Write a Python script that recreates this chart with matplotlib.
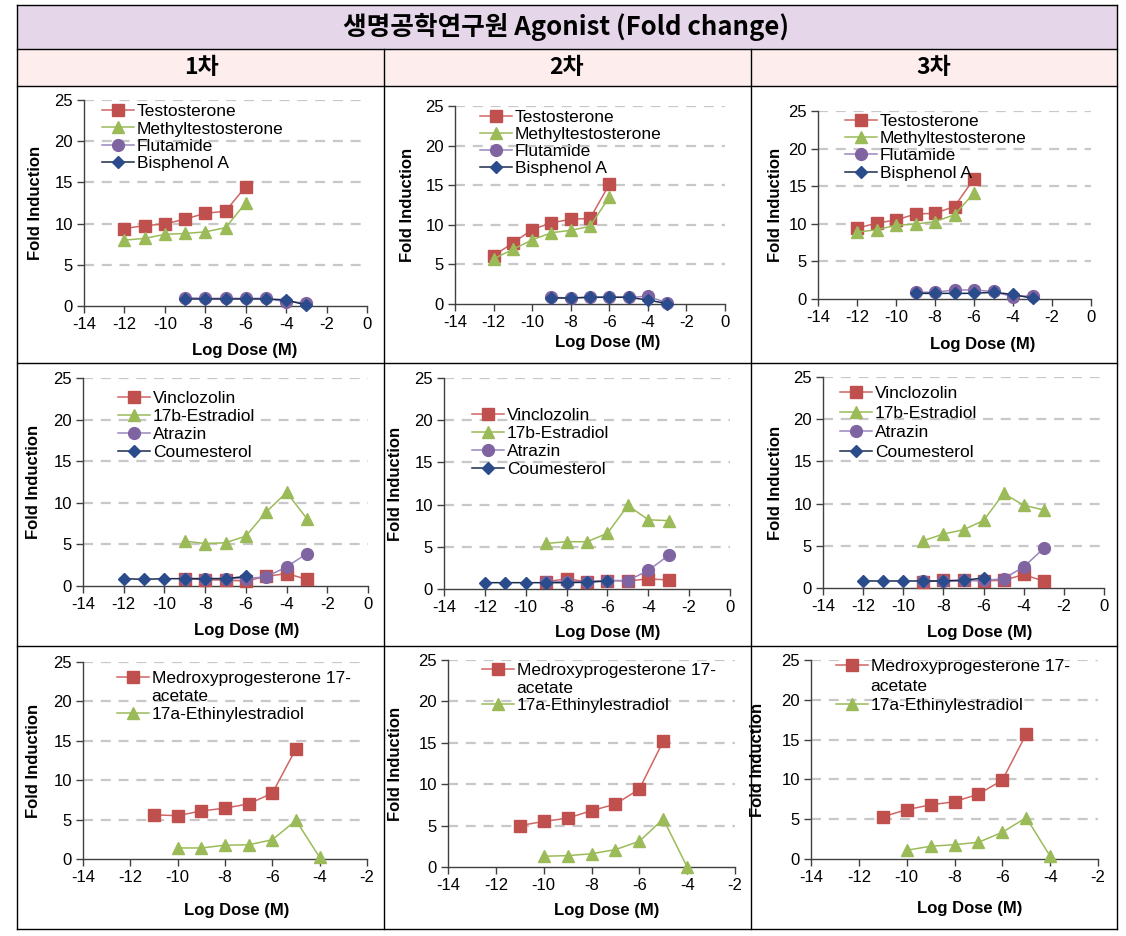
import matplotlib
matplotlib.use('Agg')
import matplotlib.pyplot as plt
from matplotlib.lines import Line2D
from matplotlib.patches import Rectangle

# ---------------- data ----------------
title_text = "생명공학연구원 Agonist (Fold change)"
col_headers = ["1차", "2차", "3차"]

dose_12_6 = [-12, -11, -10, -9, -8, -7, -6]
dose_9_3 = [-9, -8, -7, -6, -5, -4, -3]
dose_11_5 = [-11, -10, -9, -8, -7, -6, -5]
dose_10_4 = [-10, -9, -8, -7, -6, -5, -4]

# row 1
testosterone_1 = [9.4, 9.75, 9.95, 10.55, 11.25, 11.5, 14.5]
testosterone_2 = [6.1, 7.7, 9.4, 10.25, 10.7, 10.8, 15.1]
testosterone_3 = [9.4, 10.1, 10.5, 11.3, 11.4, 12.3, 16.0]
methyltest_1 = [8.0, 8.2, 8.7, 8.8, 9.0, 9.5, 12.5]
methyltest_2 = [5.7, 6.9, 8.1, 9.0, 9.3, 9.8, 13.5]
methyltest_3 = [8.9, 9.2, 9.8, 9.95, 10.3, 11.2, 14.1]
flutamide_1 = [1.0, 0.93, 0.93, 0.93, 0.93, 0.5, 0.4]
flutamide_2 = [0.85, 0.75, 0.85, 0.85, 0.85, 0.97, 0.15]
flutamide_3 = [0.9, 0.9, 1.2, 1.2, 1.0, 0.3, 0.45]
bisphenol_1 = [0.85, 0.85, 0.85, 0.85, 0.85, 0.75, 0.1]
bisphenol_2 = [0.76, 0.76, 0.85, 0.85, 0.85, 0.5, 0.05]
bisphenol_3 = [0.75, 0.75, 0.75, 0.75, 0.9, 0.6, 0.1]

# row 2
vinclozolin_1 = [0.9, 0.75, 0.7, 0.6, 1.15, 1.5, 0.8]
vinclozolin_2 = [0.87, 1.2, 0.87, 1.0, 0.95, 1.2, 1.07]
vinclozolin_3 = [0.7, 0.9, 0.9, 0.85, 0.9, 1.6, 0.8]
estradiol_1 = [5.4, 5.1, 5.2, 6.0, 8.9, 11.25, 8.1]
estradiol_2 = [5.4, 5.6, 5.6, 6.6, 9.9, 8.2, 8.1]
estradiol_3 = [5.6, 6.4, 6.9, 8.0, 11.2, 9.8, 9.25]
atrazin_1 = [0.9, 0.9, 0.9, 0.9, 1.1, 2.3, 3.9]
atrazin_2 = [0.87, 0.87, 0.87, 1.0, 1.0, 2.2, 4.0]
atrazin_3 = [0.85, 0.85, 0.9, 0.9, 1.1, 2.5, 4.7]
coumesterol_1 = [0.88, 0.8, 0.88, 0.88, 0.88, 0.88, 1.15]
coumesterol_2 = [0.75, 0.75, 0.75, 0.75, 0.75, 0.8, 0.95]
coumesterol_3 = [0.83, 0.83, 0.83, 0.83, 0.83, 0.9, 1.2]

# row 3
medroxy_1 = [5.6, 5.5, 6.1, 6.45, 7.0, 8.35, 14.0]
medroxy_2 = [5.0, 5.5, 5.9, 6.8, 7.6, 9.4, 15.2]
medroxy_3 = [5.3, 6.2, 6.8, 7.2, 8.15, 9.9, 15.7]
ethinyl_1 = [1.4, 1.4, 1.75, 1.8, 2.45, 4.9, 0.2]
ethinyl_2 = [1.3, 1.37, 1.6, 2.1, 3.1, 5.8, 0.0]
ethinyl_3 = [1.1, 1.6, 1.8, 2.1, 3.35, 5.2, 0.35]

labels_row1 = ["Testosterone", "Methyltestosterone", "Flutamide", "Bisphenol A"]
labels_row2 = ["Vinclozolin", "17b-Estradiol", "Atrazin", "Coumesterol"]
labels_row3 = ["Medroxyprogesterone 17-\nacetate", "17a-Ethinylestradiol"]

y_ticks = [0, 5, 10, 15, 20, 25]
x_ticks_wide = [-14, -12, -10, -8, -6, -4, -2, 0]
x_ticks_narrow = [-14, -12, -10, -8, -6, -4, -2]

# ---------------- styles ----------------
RED = '#C0504D'
GREEN = '#9BBB59'
PURPLE = '#8064A2'
NAVY = '#2B4C8C'
styles = [
    dict(marker='s', color=RED, ms=9, line='#CF6664'),
    dict(marker='^', color=GREEN, ms=9, line='#9BBB59'),
    dict(marker='o', color=PURPLE, ms=8.5, line='#9A86BE'),
    dict(marker='D', color=NAVY, ms=6.5, line='#1B2B4B'),
]

W, H = 1126, 936
plt.rcParams['font.family'] = ['Liberation Sans', 'DejaVu Sans']
plt.rcParams['axes.unicode_minus'] = False
fig = plt.figure(figsize=(W / 100, H / 100), dpi=100)


def fx(x):
    return x / W


def fy(y):
    return 1 - y / H


# ---------------- table frame ----------------
TL, TR, TT, TB = 17, 1117, 5, 929
fig.add_artist(Rectangle((fx(TL), fy(49)), fx(TR - TL), (49 - TT) / H,
                         facecolor='#E6D6E9', edgecolor='none', zorder=0))
fig.add_artist(Rectangle((fx(TL), fy(86)), fx(TR - TL), (86 - 49) / H,
                         facecolor='#FDEDED', edgecolor='none', zorder=0))
lkw = dict(color='black', lw=1.0, zorder=5)
for yy in [TT, 49, 86, 363, 646, TB]:
    fig.add_artist(Line2D([fx(TL), fx(TR)], [fy(yy), fy(yy)], **lkw))
for xx in [TL, TR]:
    fig.add_artist(Line2D([fx(xx), fx(xx)], [fy(TT), fy(TB)], **lkw))
for xx in [384, 751]:
    fig.add_artist(Line2D([fx(xx), fx(xx)], [fy(49), fy(TB)], **lkw))

fig.text(fx(566), fy(27), title_text, ha='center', va='center', fontsize=18.5,
         fontweight='bold', family=['Noto Sans CJK KR', 'DejaVu Sans'])
for cx, h in zip([201, 567, 934], col_headers):
    fig.text(fx(cx), fy(68), h, ha='center', va='center', fontsize=16.5,
             fontweight='bold', family=['Noto Sans CJK KR', 'DejaVu Sans'])

# ---------------- panels ----------------
panels = [
    dict(box=(84, 367, 100, 306), xlim=(-14, 0), xt=x_ticks_wide, yl=35, xl=(245, 350), leg=(102, 104), ls=0.13,
         labels=labels_row1,
         series=[(dose_12_6, testosterone_1), (dose_12_6, methyltest_1), (dose_9_3, flutamide_1), (dose_9_3, bisphenol_1)]),
    dict(box=(455, 725, 106, 304), xlim=(-14, 0), xt=x_ticks_wide, yl=407, xl=(608, 343), leg=(480, 110), ls=0.1,
         labels=labels_row1,
         series=[(dose_12_6, testosterone_2), (dose_12_6, methyltest_2), (dose_9_3, flutamide_2), (dose_9_3, bisphenol_2)]),
    dict(box=(818, 1091, 111, 299), xlim=(-14, 0), xt=x_ticks_wide, yl=775, xl=(983, 345), leg=(845, 114), ls=0.115,
         labels=labels_row1,
         series=[(dose_12_6, testosterone_3), (dose_12_6, methyltest_3), (dose_9_3, flutamide_3), (dose_9_3, bisphenol_3)]),
    dict(box=(83, 368, 378, 586), xlim=(-14, 0), xt=x_ticks_wide, yl=33, xl=(247, 630), leg=(118, 391), ls=0.16,
         labels=labels_row2,
         series=[(dose_9_3, vinclozolin_1), (dose_9_3, estradiol_1), (dose_9_3, atrazin_1), (dose_12_6, coumesterol_1)]),
    dict(box=(444, 730, 378, 589), xlim=(-14, 0), xt=x_ticks_wide, yl=395, xl=(608, 632), leg=(472, 408), ls=0.17,
         labels=labels_row2,
         series=[(dose_9_3, vinclozolin_2), (dose_9_3, estradiol_2), (dose_9_3, atrazin_2), (dose_12_6, coumesterol_2)]),
    dict(box=(823, 1104, 377, 588), xlim=(-14, 0), xt=x_ticks_wide, yl=775, xl=(980, 632), leg=(840, 386), ls=0.25,
         labels=labels_row2,
         series=[(dose_9_3, vinclozolin_3), (dose_9_3, estradiol_3), (dose_9_3, atrazin_3), (dose_12_6, coumesterol_3)]),
    dict(box=(83, 367, 662, 859), xlim=(-14, -2), xt=x_ticks_narrow, yl=33, xl=(237, 910), leg=(117, 671), ls=0.16,
         labels=labels_row3,
         series=[(dose_11_5, medroxy_1), (dose_10_4, ethinyl_1)]),
    dict(box=(448, 735, 660, 867), xlim=(-14, -2), xt=x_ticks_narrow, yl=395, xl=(607, 910), leg=(482, 663), ls=0.13,
         labels=labels_row3,
         series=[(dose_11_5, medroxy_2), (dose_10_4, ethinyl_2)]),
    dict(box=(811, 1098, 660, 859), xlim=(-14, -2), xt=x_ticks_narrow, yl=758, xl=(970, 908), leg=(836, 659), ls=0.26,
         labels=labels_row3,
         series=[(dose_11_5, medroxy_3), (dose_10_4, ethinyl_3)]),
]

for p in panels:
    l, r, t, b = p['box']
    ax = fig.add_axes([fx(l), fy(b), (r - l) / W, (b - t) / H])
    ax.set_facecolor('none')
    ax.set_xlim(*p['xlim'])
    ax.set_ylim(0, 25)
    ax.set_xticks(p['xt'])
    ax.set_yticks(y_ticks)
    for s in ['top', 'right']:
        ax.spines[s].set_visible(False)
    for s in ['left', 'bottom']:
        ax.spines[s].set_color('#404040')
        ax.spines[s].set_linewidth(1.0)
    ax.tick_params(direction='out', length=5, width=1, color='#404040', labelsize=12, pad=3)
    for yv in y_ticks[1:]:
        ax.axhline(yv, color='#C8C8C8', lw=1.6, linestyle=(0, (4.5, 3.5)), zorder=0)
    handles, texts = [], []
    for (xs, ys), st, lab in zip(p['series'], styles, p['labels']):
        h, = ax.plot(xs, ys, color=st['line'], lw=1.1, marker=st['marker'], ms=st['ms'],
                     markerfacecolor=st['color'], markeredgecolor=st['color'],
                     clip_on=False, zorder=3)
        # a wrapped label: marker beside the first line, continuation below it
        parts = lab.split('\n')
        handles.append(h)
        texts.append(parts[0])
        for extra in parts[1:]:
            handles.append(Line2D([], [], linestyle='none', marker=None))
            texts.append(extra)
    ax.legend(handles, texts, loc='upper left', bbox_to_anchor=(fx(p['leg'][0]), fy(p['leg'][1])),
              bbox_transform=fig.transFigure, frameon=False, fontsize=12.5, handlelength=1.85,
              handletextpad=0.15, labelspacing=p['ls'], borderpad=0, borderaxespad=0)
    ax.set_ylabel('Fold Induction', fontsize=12, fontweight='bold', va='center')
    ax.yaxis.set_label_coords(fx(p['yl']), fy((t + b) / 2), transform=fig.transFigure)
    ax.set_xlabel('Log Dose (M)', fontsize=12, fontweight='bold', va='center')
    ax.xaxis.set_label_coords(fx(p['xl'][0]), fy(p['xl'][1]), transform=fig.transFigure)

fig.savefig('out.png', dpi=100)
